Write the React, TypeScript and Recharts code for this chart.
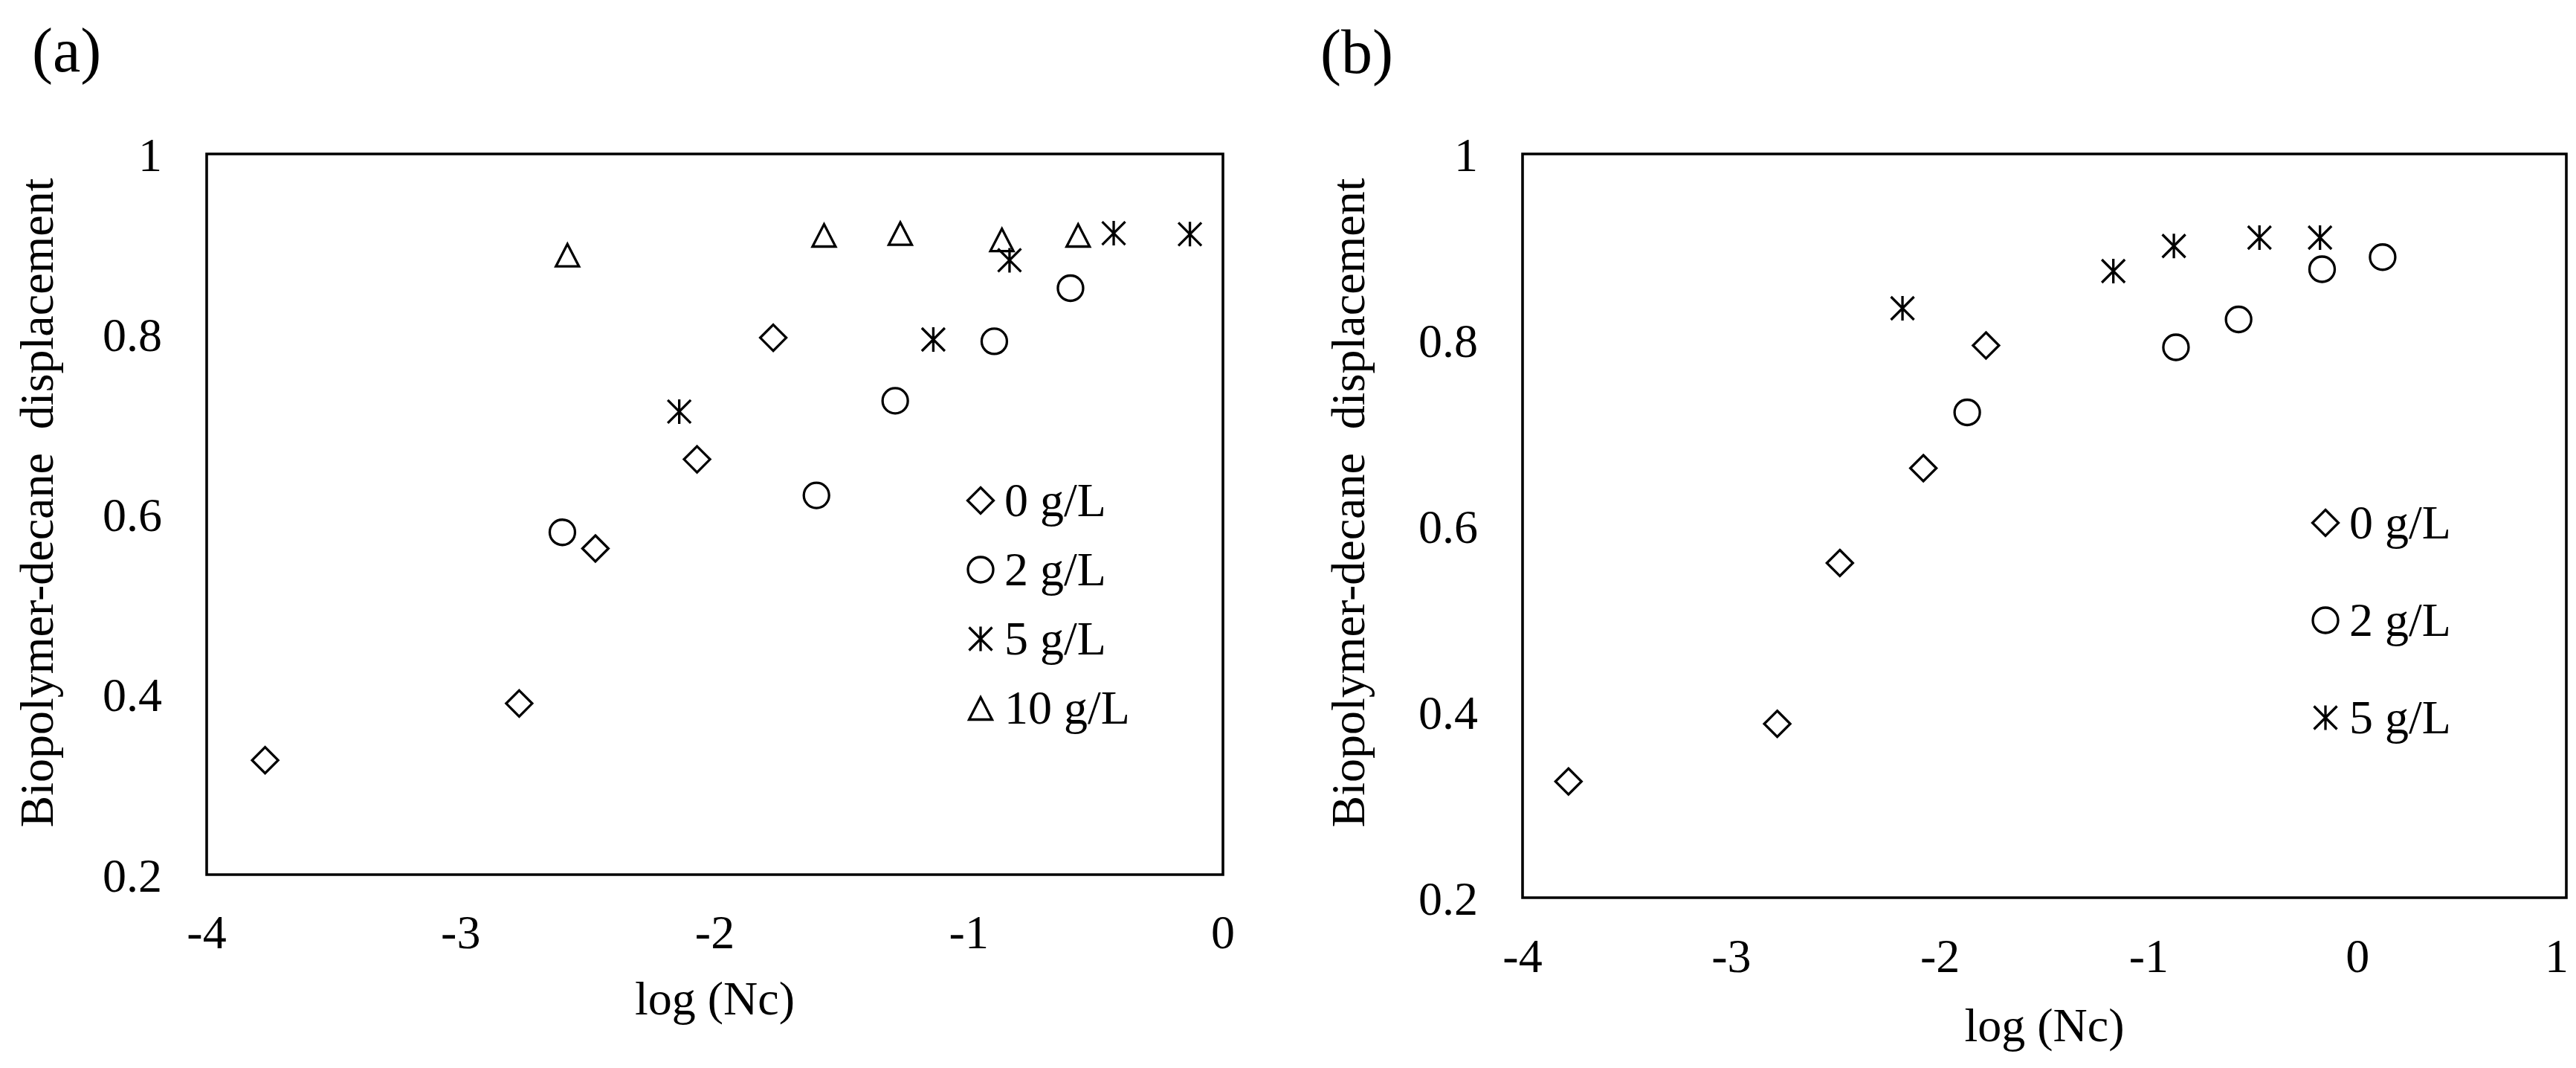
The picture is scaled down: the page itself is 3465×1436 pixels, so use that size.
import React from 'react';
import { ScatterChart, Scatter, XAxis, YAxis, ReferenceArea, Legend } from 'recharts';

const FONT = "'Times New Roman', 'Liberation Serif', Times, serif";
const Y_TITLE = 'Biopolymer-decane\u00A0 displacement';
const X_TITLE = 'log (Nc)';

// ---- Panel (a) data ----
const A_X_0G = [-3.77, -2.77, -2.47, -2.07, -1.77];
const A_Y_0G = [0.327, 0.39, 0.562, 0.661, 0.796];
const A_X_2G = [-2.6, -1.6, -1.29, -0.9, -0.6];
const A_Y_2G = [0.58, 0.621, 0.726, 0.792, 0.851];
const A_X_5G = [-2.14, -1.14, -0.84, -0.43, -0.13];
const A_Y_5G = [0.714, 0.794, 0.882, 0.912, 0.911];
const A_X_10G = [-2.58, -1.57, -1.27, -0.87, -0.57];
const A_Y_10G = [0.888, 0.91, 0.912, 0.905, 0.91];
const A_XTICKS = [-4, -3, -2, -1, 0];

// ---- Panel (b) data ----
const B_X_0G = [-3.78, -2.78, -2.48, -2.08, -1.78];
const B_Y_0G = [0.325, 0.387, 0.56, 0.662, 0.794];
const B_X_2G = [-1.87, -0.87, -0.57, -0.17, 0.12];
const B_Y_2G = [0.722, 0.792, 0.822, 0.876, 0.889];
const B_X_5G = [-2.18, -1.17, -0.88, -0.47, -0.18];
const B_Y_5G = [0.834, 0.874, 0.901, 0.91, 0.91];
const B_XTICKS = [-4, -3, -2, -1, 0, 1];

const YTICKS = [0.2, 0.4, 0.6, 0.8, 1];
const NAMES_A = ['0 g/L', '2 g/L', '5 g/L', '10 g/L'];
const NAMES_B = ['0 g/L', '2 g/L', '5 g/L'];

type Kind = 'diamond' | 'circle' | 'star' | 'triangle';
const KIND_BY_NAME: Record<string, Kind> = {
  '0 g/L': 'diamond',
  '2 g/L': 'circle',
  '5 g/L': 'star',
  '10 g/L': 'triangle',
};

const zip = (xs: number[], ys: number[]) => xs.map((x, i) => ({ x, y: ys[i] }));

const SW = 3.3;

function Marker({ kind, cx, cy }: { kind: Kind; cx: number; cy: number }) {
  const common = { fill: 'none', stroke: '#000', strokeWidth: SW };
  if (kind === 'diamond') {
    const r = 17.5;
    return <path d={`M${cx} ${cy - r}L${cx + r} ${cy}L${cx} ${cy + r}L${cx - r} ${cy}Z`} {...common} />;
  }
  if (kind === 'circle') return <circle cx={cx} cy={cy} r={17} {...common} />;
  if (kind === 'triangle') {
    return (
      <path
        d={`M${cx} ${cy - 14.5}L${cx + 15.5} ${cy + 15.5}L${cx - 15.5} ${cy + 15.5}Z`}
        {...common}
        strokeLinejoin="miter"
      />
    );
  }
  const a = 15.5;
  const v = 16.5;
  return (
    <path
      d={`M${cx - a} ${cy - a}L${cx + a} ${cy + a}M${cx + a} ${cy - a}L${cx - a} ${cy + a}M${cx} ${cy - v}L${cx} ${cy + v}`}
      {...common}
    />
  );
}

const shapeFor = (kind: Kind) => (p: any) => <Marker kind={kind} cx={p.cx} cy={p.cy} />;

const legendContent = (names: string[], rowH: number) => (props: any) => {
  const items = [...(props.payload || [])].sort(
    (a: any, b: any) => names.indexOf(a.value) - names.indexOf(b.value)
  );
  return (
    <div style={{ fontFamily: FONT, fontSize: 64, color: '#000', lineHeight: 1 }}>
      {items.map((e: any) => (
        <div
          key={e.value}
          style={{ display: 'flex', alignItems: 'center', height: rowH, whiteSpace: 'nowrap' }}
        >
          <svg width={44} height={44} style={{ display: 'block', overflow: 'visible' }}>
            <Marker kind={KIND_BY_NAME[e.value]} cx={22} cy={22} />
          </svg>
          <span style={{ marginLeft: 10 }}>{e.value}</span>
        </div>
      ))}
    </div>
  );
};

const yTitle = (bx: number, cy: number) => () => (
  <text
    x={bx}
    y={cy}
    transform={`rotate(-90 ${bx} ${cy})`}
    textAnchor="middle"
    fontSize={64}
    fontFamily={FONT}
    fill="#000"
  >
    {Y_TITLE}
  </text>
);

const tickStyle = { fill: '#000', fontSize: 64, fontFamily: FONT };

// x tick for panel (b): keep the last label inside the picture, as in the reference
const BXTick = (props: any) => {
  const { x, y, payload } = props;
  const last = payload.value === B_XTICKS[B_XTICKS.length - 1];
  return (
    <text
      x={last ? x + 3 : x}
      y={y}
      dy="0.71em"
      textAnchor={last ? 'end' : 'middle'}
      fill="#000"
      fontSize={64}
      fontFamily={FONT}
    >
      {String(payload.value)}
    </text>
  );
};

export default function App() {
  return (
    <div style={{ position: 'absolute', left: 0, top: 0, width: 3465, height: 1436, background: '#fff' }}>
      {/* Panel (a) */}
      <div style={{ position: 'absolute', left: 0, top: 0 }}>
        <ScatterChart width={1700} height={1436} margin={{ top: 207, right: 55, bottom: 0, left: 0 }}>
          <XAxis
            type="number"
            dataKey="x"
            domain={[-4, 0]}
            ticks={A_XTICKS}
            interval={0}
            tickLine={false}
            axisLine={false}
            tickSize={0}
            tickMargin={54}
            height={260}
            tick={tickStyle}
            allowDataOverflow
            label={{
              value: X_TITLE,
              position: 'insideBottom',
              offset: 72,
              fill: '#000',
              fontSize: 64,
              fontFamily: FONT,
            }}
          />
          <YAxis
            type="number"
            dataKey="y"
            domain={[0.2, 1]}
            ticks={YTICKS}
            interval={0}
            tickLine={false}
            axisLine={false}
            tickSize={0}
            tickMargin={60}
            width={278}
            tick={tickStyle}
            allowDataOverflow
            label={{ content: yTitle(71, 676) }}
          />
          <ReferenceArea x1={-4} x2={0} y1={0.2} y2={1} fill="none" stroke="#000" strokeWidth={3.6} />
          <Scatter name="0 g/L" data={zip(A_X_0G, A_Y_0G)} shape={shapeFor('diamond')} legendType="diamond" isAnimationActive={false} />
          <Scatter name="2 g/L" data={zip(A_X_2G, A_Y_2G)} shape={shapeFor('circle')} legendType="circle" isAnimationActive={false} />
          <Scatter name="5 g/L" data={zip(A_X_5G, A_Y_5G)} shape={shapeFor('star')} legendType="star" isAnimationActive={false} />
          <Scatter name="10 g/L" data={zip(A_X_10G, A_Y_10G)} shape={shapeFor('triangle')} legendType="triangle" isAnimationActive={false} />
          <Legend
            layout="vertical"
            align="center"
            verticalAlign="middle"
            content={legendContent(NAMES_A, 93)}
            wrapperStyle={{ left: 1297, top: 626.5, width: 320, height: 372 }}
          />
        </ScatterChart>
      </div>

      {/* Panel (b) */}
      <div style={{ position: 'absolute', left: 1700, top: 0 }}>
        <ScatterChart width={1765} height={1436} margin={{ top: 207, right: 13, bottom: 0, left: 0 }}>
          <XAxis
            type="number"
            dataKey="x"
            domain={[-4, 1]}
            ticks={B_XTICKS}
            interval={0}
            tickLine={false}
            axisLine={false}
            tickSize={0}
            tickMargin={55}
            height={229}
            tick={<BXTick />}
            allowDataOverflow
            label={{
              value: X_TITLE,
              position: 'insideBottom',
              offset: 36,
              fill: '#000',
              fontSize: 64,
              fontFamily: FONT,
            }}
          />
          <YAxis
            type="number"
            dataKey="y"
            domain={[0.2, 1]}
            ticks={YTICKS}
            interval={0}
            tickLine={false}
            axisLine={false}
            tickSize={0}
            tickMargin={60}
            width={348}
            tick={tickStyle}
            allowDataOverflow
            label={{ content: yTitle(135, 676) }}
          />
          <ReferenceArea x1={-4} x2={1} y1={0.2} y2={1} fill="none" stroke="#000" strokeWidth={3.6} />
          <Scatter name="0 g/L" data={zip(B_X_0G, B_Y_0G)} shape={shapeFor('diamond')} legendType="diamond" isAnimationActive={false} />
          <Scatter name="2 g/L" data={zip(B_X_2G, B_Y_2G)} shape={shapeFor('circle')} legendType="circle" isAnimationActive={false} />
          <Scatter name="5 g/L" data={zip(B_X_5G, B_Y_5G)} shape={shapeFor('star')} legendType="star" isAnimationActive={false} />
          <Legend
            layout="vertical"
            align="center"
            verticalAlign="middle"
            content={legendContent(NAMES_B, 131)}
            wrapperStyle={{ left: 1406, top: 637.5, width: 320, height: 393 }}
          />
        </ScatterChart>
      </div>

      {/* Panel letters */}
      <svg
        width={3465}
        height={1436}
        style={{ position: 'absolute', left: 0, top: 0, pointerEvents: 'none' }}
      >
        <text x={43} y={96} fontSize={84} fontFamily={FONT} fill="#000">(a)</text>
        <text x={1776} y={98} fontSize={84} fontFamily={FONT} fill="#000">(b)</text>
      </svg>
    </div>
  );
}
